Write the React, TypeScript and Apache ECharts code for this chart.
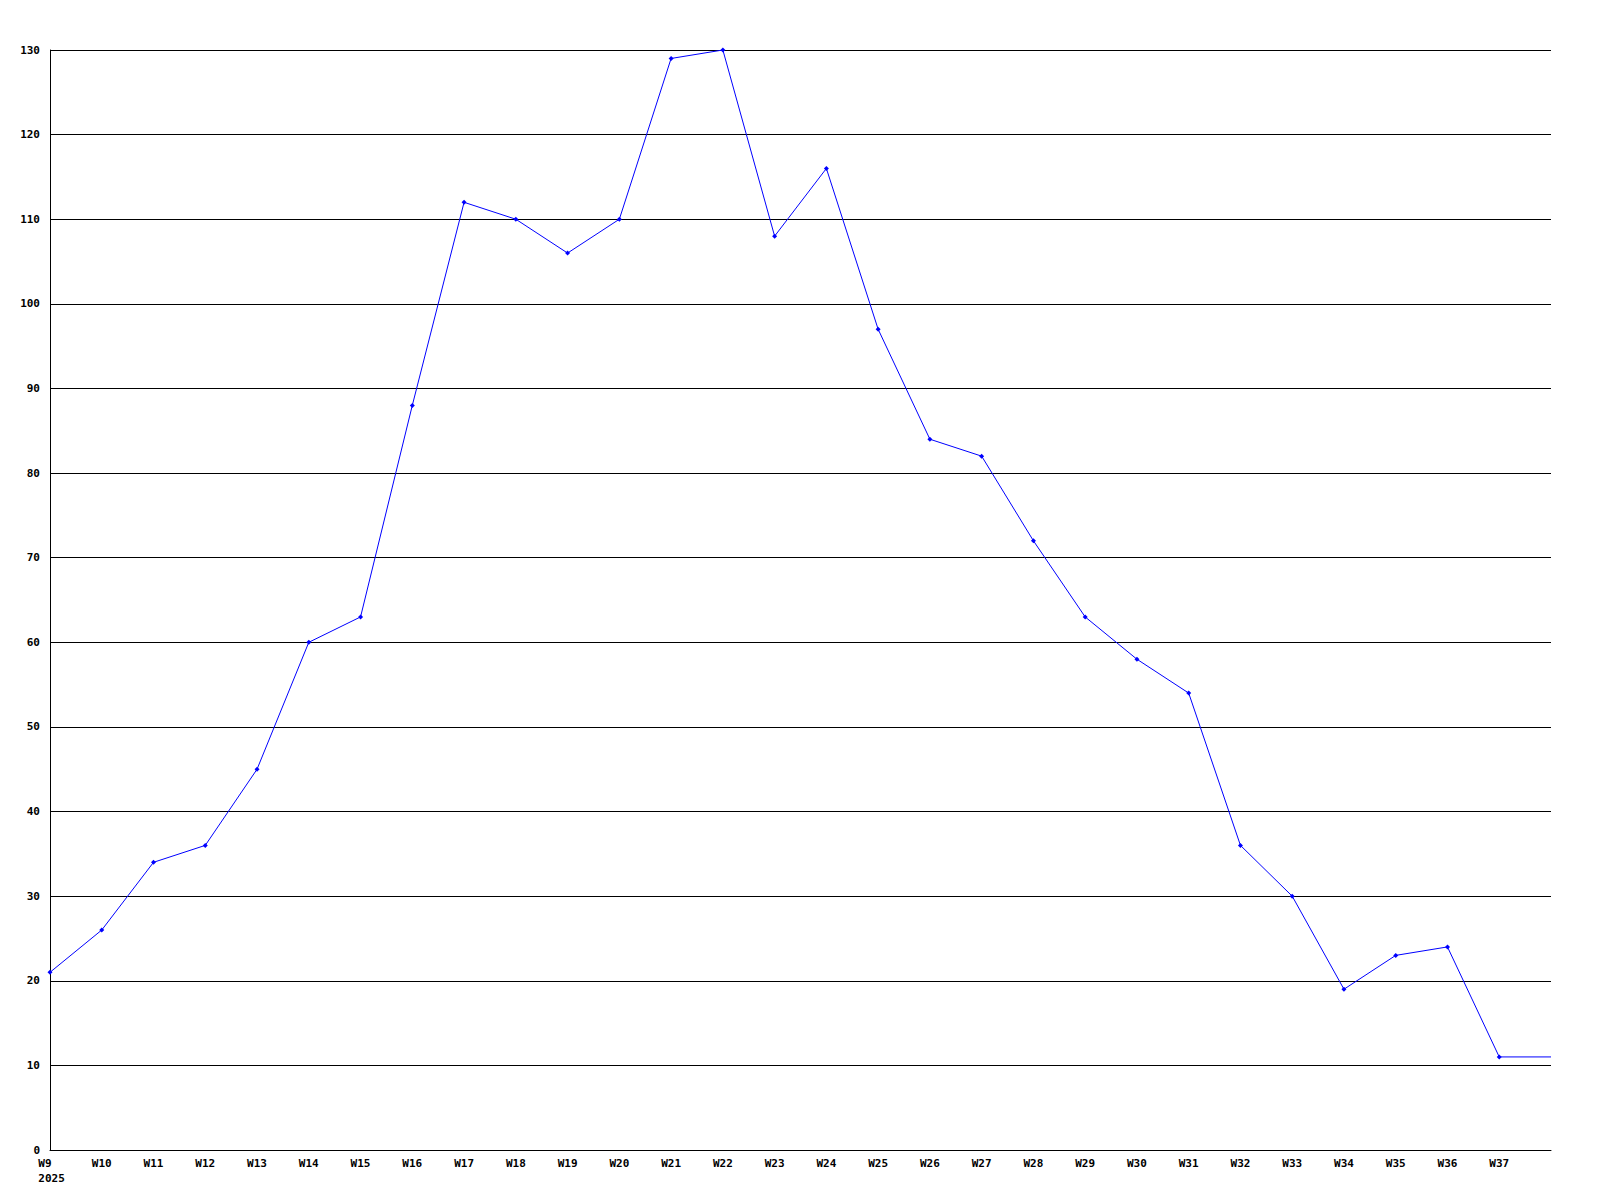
import React, { useEffect, useRef } from "react";
import * as echarts from "echarts";

const weeks = ["W9","W10","W11","W12","W13","W14","W15","W16","W17","W18","W19","W20","W21","W22","W23","W24","W25","W26","W27","W28","W29","W30","W31","W32","W33","W34","W35","W36","W37","W38"];
const values = [21,26,34,36,45,60,63,88,112,110,106,110,129,130,108,116,97,84,82,72,63,58,54,36,30,19,23,24,11,11];
const yearLabel = "2025";
const yTicks = { min: 0, max: 130, interval: 10 };

export default function App() {
  const ref = useRef<HTMLDivElement>(null);
  useEffect(() => {
    document.body.style.margin = "0";
    const chart = echarts.init(ref.current!, undefined, { renderer: "svg" });
    const font = "'DejaVu Sans Mono', monospace";
    chart.setOption({
      animation: false,
      backgroundColor: "#ffffff",
      grid: { left: 50, top: 50, right: 49, bottom: 50, containLabel: false },
      xAxis: {
        type: "category",
        data: weeks,
        boundaryGap: false,
        axisLine: { show: true, lineStyle: { color: "#000", width: 1 } },
        axisTick: { show: false },
        splitLine: { show: false },
        axisLabel: {
          interval: 0,
          margin: 6,
          color: "#000",
          fontFamily: font,
          fontWeight: "bold",
          fontSize: 11,
          lineHeight: 15,
          formatter: (v: string, i: number) =>
            i === weeks.length - 1
              ? ""
              : i === 0
              ? "{f|" + v + "}\n{f|" + yearLabel + "}"
              : v,
          rich: {
            f: {
              align: "left",
              color: "#000",
              fontFamily: font,
              fontWeight: "bold",
              fontSize: 11,
              lineHeight: 15,
              padding: [0, 0, 0, 3],
            },
          },
        },
      },
      yAxis: {
        type: "value",
        min: yTicks.min,
        max: yTicks.max,
        interval: yTicks.interval,
        axisLine: { show: true, lineStyle: { color: "#000", width: 1 } },
        axisTick: { show: false },
        splitLine: { show: true, lineStyle: { color: "#000", width: 1 } },
        axisLabel: {
          margin: 10,
          color: "#000",
          fontFamily: font,
          fontWeight: "bold",
          fontSize: 11,
        },
      },
      series: [
        {
          type: "line",
          data: values.map((v, i) =>
            i === values.length - 1 ? { value: v, symbol: "none" } : v
          ),
          symbol: "diamond",
          symbolSize: 5,
          showAllSymbol: true,
          lineStyle: { color: "#0000ff", width: 1 },
          itemStyle: { color: "#0000ff" },
        },
      ],
    });
    return () => chart.dispose();
  }, []);
  return <div ref={ref} style={{ width: 1600, height: 1200 }} />;
}
